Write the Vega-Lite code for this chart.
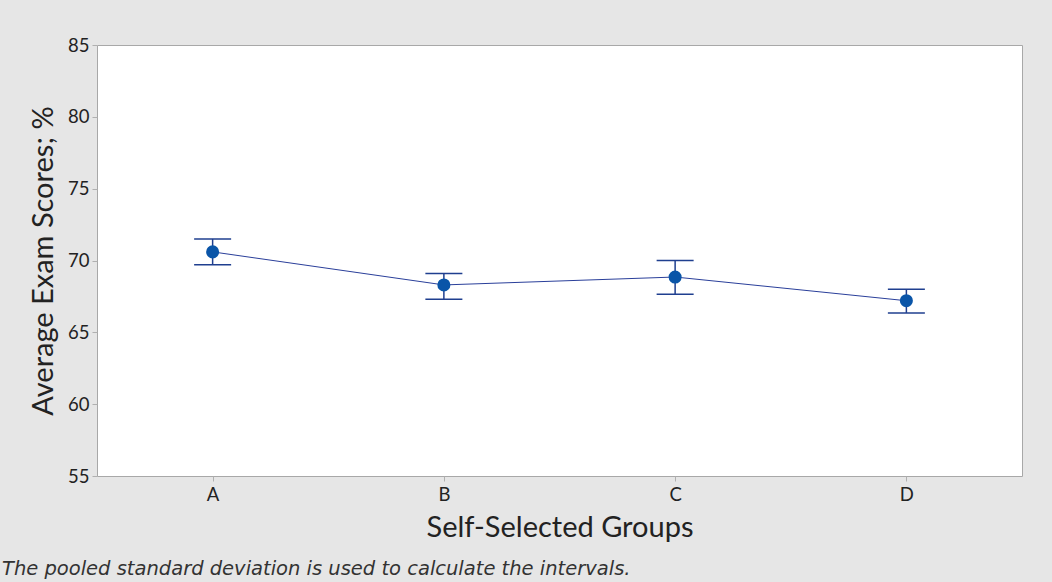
{
  "$schema": "https://vega.github.io/schema/vega-lite/v6.json",
  "width": 925,
  "height": 431,
  "autosize": {"type": "none"},
  "padding": {"left": 97, "top": 45, "right": 30, "bottom": 106},
  "background": "#e6e6e6",
  "config": {
    "view": {"fill": "white", "stroke": "#a8a8a8", "strokeWidth": 1},
    "font": "Lato"
  },
  "title": {
    "text": "The pooled standard deviation is used to calculate the intervals.",
    "orient": "bottom",
    "anchor": "start",
    "frame": "group",
    "dx": -95,
    "offset": 17,
    "fontSize": 19.5,
    "fontStyle": "italic",
    "fontWeight": "normal",
    "color": "#333333",
    "font": "DejaVu Sans"
  },
  "data": {
    "values": [
      {"group": "A", "mean": 70.6, "lower": 69.7, "upper": 71.5},
      {"group": "B", "mean": 68.3, "lower": 67.3, "upper": 69.1},
      {"group": "C", "mean": 68.85, "lower": 67.65, "upper": 70.0},
      {"group": "D", "mean": 67.2, "lower": 66.35, "upper": 68.0}
    ]
  },
  "encoding": {
    "x": {
      "field": "group",
      "type": "nominal",
      "scale": {"type": "point", "padding": 0.5},
      "axis": {
        "title": "Self-Selected Groups",
        "titleFontSize": 29,
        "titleFontWeight": "normal",
        "titleColor": "#222222",
        "titlePadding": 10,
        "labelFontSize": 18.5,
        "labelColor": "#222222",
        "labelAngle": 0,
        "labelPadding": 4,
        "tickColor": "#b0b0b0",
        "tickSize": 5,
        "domain": false,
        "grid": false
      }
    }
  },
  "layer": [
    {
      "mark": {"type": "rule", "color": "#1f3f8f", "strokeWidth": 1.5},
      "encoding": {
        "y": {"field": "lower", "type": "quantitative"},
        "y2": {"field": "upper"}
      }
    },
    {
      "mark": {"type": "tick", "orient": "horizontal", "color": "#1f3f8f", "size": 37, "thickness": 1.5, "opacity": 1},
      "encoding": {"y": {"field": "lower", "type": "quantitative"}}
    },
    {
      "mark": {"type": "tick", "orient": "horizontal", "color": "#1f3f8f", "size": 37, "thickness": 1.5, "opacity": 1},
      "encoding": {"y": {"field": "upper", "type": "quantitative"}}
    },
    {
      "mark": {"type": "line", "color": "#2a3f9a", "strokeWidth": 1},
      "encoding": {"y": {"field": "mean", "type": "quantitative"}}
    },
    {
      "mark": {"type": "point", "filled": true, "color": "#0a55a8", "size": 170, "opacity": 1},
      "encoding": {
        "y": {
          "field": "mean",
          "type": "quantitative",
          "scale": {"domain": [55, 85], "nice": false, "zero": false},
          "axis": {
            "title": "Average Exam Scores; %",
            "titleFontSize": 29,
            "titleFontWeight": "normal",
            "titleColor": "#222222",
            "titlePadding": 9,
            "values": [55, 60, 65, 70, 75, 80, 85],
            "labelFontSize": 18.5,
            "labelColor": "#222222",
            "labelPadding": 3,
            "tickColor": "#b0b0b0",
            "tickSize": 5,
            "domain": false,
            "grid": false
          }
        }
      }
    }
  ]
}
